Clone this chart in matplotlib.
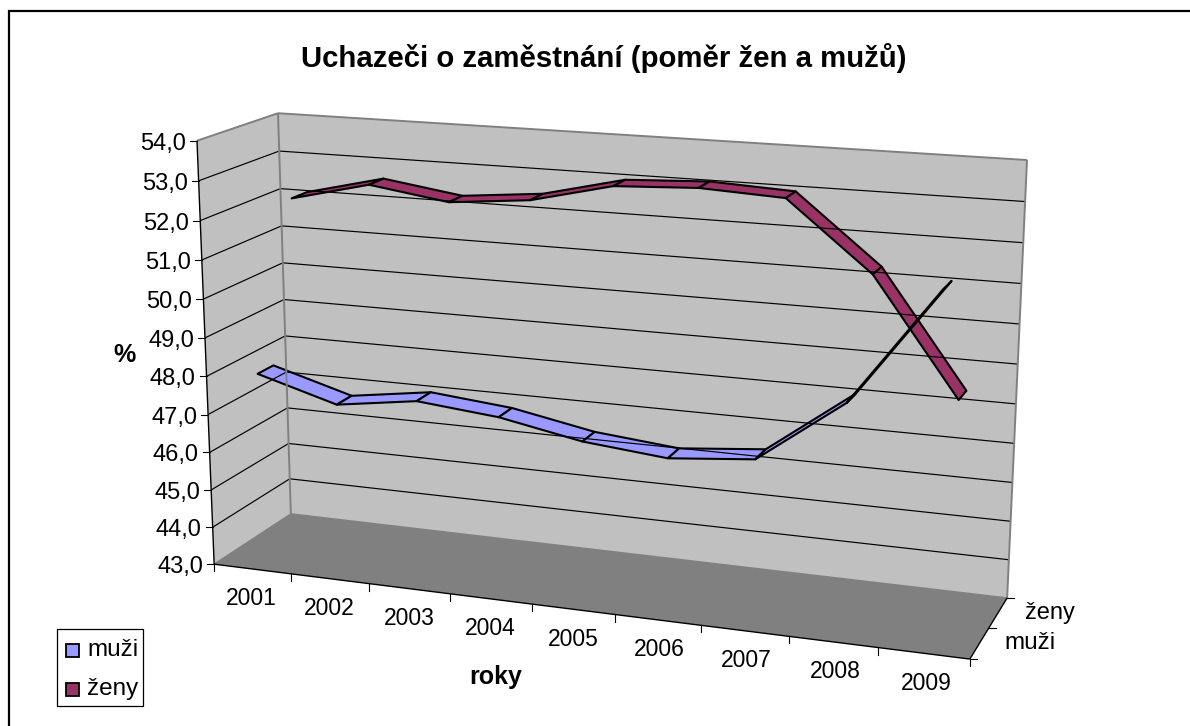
import numpy as np
import matplotlib
matplotlib.use("Agg")
import matplotlib.pyplot as plt

plt.rcParams['font.family'] = ['Liberation Sans', 'DejaVu Sans']

roky = ['2001', '2002', '2003', '2004', '2005', '2006', '2007', '2008', '2009']
muzi = [48.0, 47.4, 47.7, 47.5, 47.1, 46.9, 47.1, 48.7, 51.6]
zeny = [52.1, 52.6, 52.3, 52.5, 53.0, 53.1, 53.0, 51.3, 48.4]
osa_y = [43, 44, 45, 46, 47, 48, 49, 50, 51, 52, 53, 54]
serie = ['muži', 'ženy']

BARVA_MUZI = '#9999FF'
BARVA_ZENY = '#993366'
STENA = '#C0C0C0'
PODLAHA = '#808080'

# rohy grafu: (x 0-1, y 0-1, hloubka 0-1) -> pixely obrazku
rohy = [((0, 0, 0), (214, 564)), ((1, 0, 0), (970, 659)), ((0, 0, 1), (291, 514)),
        ((1, 0, 1), (1007, 598)), ((0, 1, 1), (278, 113)), ((1, 1, 1), (1027, 160)),
        ((0, 1, 0), (197, 141))]
A, b = [], []
for (x, y, z), (u, v) in rohy:
    A.append([x, y, z, 1, 0, 0, 0, 0, -u * x, -u * y, -u * z])
    b.append(u)
    A.append([0, 0, 0, 0, x, y, z, 1, -v * x, -v * y, -v * z])
    b.append(v)
p = np.linalg.lstsq(np.array(A, float), np.array(b, float), rcond=None)[0]
P = np.append(p, 1).reshape(3, 4)


def proj(x, hodnota, z):
    w = P @ np.array([x, (hodnota - 43) / 11, z, 1.0])
    return w[0] / w[2], w[1] / w[2]


def plocha(body, barva):
    xy = np.array([proj(*b) for b in body])
    ax.fill(xy[:, 0], xy[:, 1], color=barva, lw=0)


def cara(a, b, barva='black', lw=1.0):
    xy = np.array([proj(*a), proj(*b)])
    ax.plot(xy[:, 0], xy[:, 1], color=barva, lw=lw, solid_capstyle='butt')


fig = plt.figure(figsize=(11.9, 7.26), dpi=100)
ax = fig.add_axes([0, 0, 1, 1])
ax.set_xlim(0, 1190)
ax.set_ylim(726, 0)
ax.axis('off')

# ramecek - jen vlevo a nahore
ax.plot([9, 9, 1190], [726, 11, 11], color='black', lw=1.6, solid_joinstyle='miter')

# steny a podlaha
plocha([(0, 43, 0), (0, 54, 0), (0, 54, 1), (0, 43, 1)], STENA)
plocha([(0, 43, 1), (0, 54, 1), (1, 54, 1), (1, 43, 1)], STENA)
plocha([(0, 43, 0), (1, 43, 0), (1, 43, 1), (0, 43, 1)], PODLAHA)
for h in osa_y[1:-1]:
    cara((0, h, 0), (0, h, 1), lw=0.85)
    cara((0, h, 1), (1, h, 1), lw=0.85)
cara((0, 54, 0), (0, 54, 1), PODLAHA, 1.4)
cara((0, 54, 1), (1, 54, 1), PODLAHA, 1.4)
cara((0, 43, 1), (0, 54, 1), PODLAHA, 1.4)
cara((1, 43, 1), (1, 54, 1), PODLAHA, 1.4)
cara((0, 43, 0), (0, 43, 1), PODLAHA, 1.0)
cara((0, 43, 1), (1, 43, 1), PODLAHA, 1.0)

# osy
cara((0, 43, 0), (0, 54, 0), 'black', 1.0)
cara((0, 43, 0), (1, 43, 0), 'black', 1.0)
cara((1, 43, 0), (1, 43, 1), 'black', 1.0)
for h in osa_y:
    x0, y0 = proj(0, h, 0)
    ax.plot([x0 - 7, x0], [y0, y0], color='black', lw=0.8)
    ax.text(x0 - 11, y0 + 3, f'{h},0', ha='right', va='center', fontsize=17)
for i in range(len(roky) + 1):
    x0, y0 = proj(i / len(roky), 43, 0)
    ax.plot([x0, x0], [y0, y0 + 7], color='black', lw=0.8)
for i, rok in enumerate(roky):
    x0, y0 = proj((i + 0.5) / len(roky), 43, 0)
    ax.text(x0 - 1 + 0.4 * i, y0 + 30, rok, ha='center', va='center', fontsize=16.5)
for z in [0, 0.5, 1]:
    x0, y0 = proj(1, 43, z)
    ax.plot([x0, x0 + 7], [y0, y0], color='black', lw=0.8)
ax.text(1025, 613, 'ženy', ha='left', va='center', fontsize=17)
ax.text(1004, 643, 'muži', ha='left', va='center', fontsize=17.5)

# pasy serii, zeny vzadu
for hodnoty, barva, z1, z2 in ((zeny, BARVA_ZENY, 0.65, 0.85), (muzi, BARVA_MUZI, 0.15, 0.35)):
    for i in range(len(hodnoty) - 1):
        xa = (i + 0.5) / len(roky)
        xb = (i + 1.5) / len(roky)
        pas = [(xa, hodnoty[i], z1), (xb, hodnoty[i + 1], z1),
               (xb, hodnoty[i + 1], z2), (xa, hodnoty[i], z2)]
        xy = np.array([proj(*q) for q in pas])
        ax.fill(xy[:, 0], xy[:, 1], facecolor=barva, edgecolor='black', lw=1.5,
                joinstyle='round')

# popisky
ax.text(604, 58, 'Uchazeči o zaměstnání (poměr žen a mužů)', ha='center', va='center',
        fontsize=21.2, fontweight='bold')
ax.text(124, 355, '%', ha='center', va='center', fontsize=18, fontweight='bold')
ax.text(496, 677, 'roky', ha='center', va='center', fontsize=18, fontweight='bold')

# legenda
ax.add_patch(plt.Rectangle((57, 629), 86, 77, facecolor='white', edgecolor='black', lw=0.9))
for nazev, barva, y0 in zip(serie, (BARVA_MUZI, BARVA_ZENY), (650, 689)):
    ax.add_patch(plt.Rectangle((66, y0 - 6), 13, 13, facecolor=barva, edgecolor='black', lw=1.3))
    ax.text(87, y0, nazev, ha='left', va='center', fontsize=17.5)

fig.savefig('out.png', dpi=100)
